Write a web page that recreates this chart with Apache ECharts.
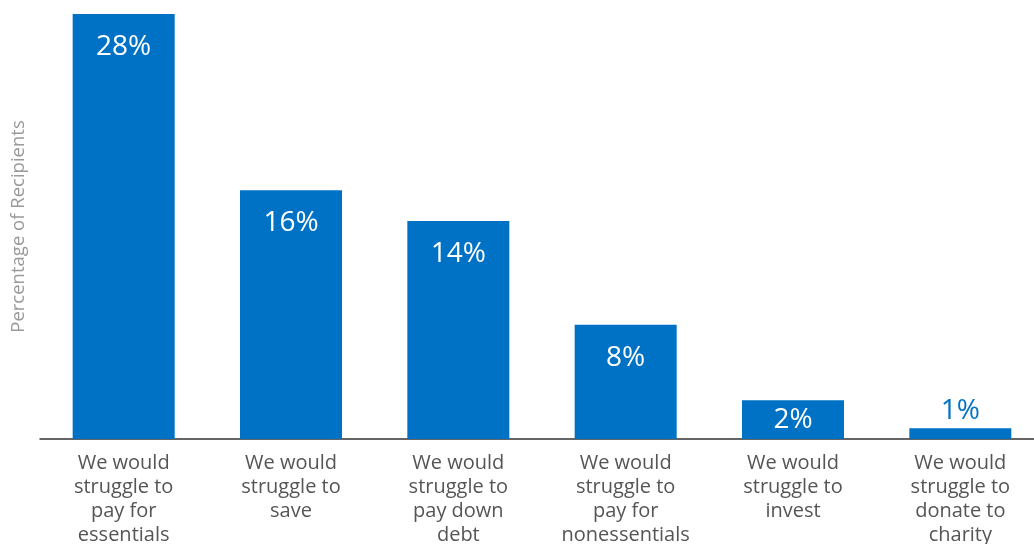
<!DOCTYPE html>
<html><head><meta charset="utf-8">
<script src="https://cdn.jsdelivr.net/npm/echarts@6/dist/echarts.min.js"></script>
<style>html,body{margin:0;padding:0;background:#fff}#c{width:1034px;height:544px}</style>
</head><body><div id="c"></div>
<script>
const categories = [
  "We would\nstruggle to\npay for\nessentials",
  "We would\nstruggle to\nsave",
  "We would\nstruggle to\npay down\ndebt",
  "We would\nstruggle to\npay for\nnonessentials",
  "We would\nstruggle to\ninvest",
  "We would\nstruggle to\ndonate to\ncharity"
];
const values = [27.5, 16.1, 14.1, 7.4, 2.5, 0.7];
const valueLabels = ["28%", "16%", "14%", "8%", "2%", "1%"];
const yAxisName = "Percentage of Recipients";

const BLUE = "#0072C6";
const font = "'Open Sans', 'Noto Sans', sans-serif";

const data = values.map((v, i) => {
  let label;
  if (v < 1) label = { position: "top", color: BLUE, distance: 3 };
  else if (v < 4) label = { position: "inside", color: "#fff" };
  else label = { position: "insideTop", color: "#fff", distance: 19 };
  return { value: v, label };
});

const chart = echarts.init(document.getElementById("c"), null, { renderer: "canvas" });
chart.setOption({
  animation: false,
  backgroundColor: "#fff",
  grid: { left: 40, right: -10, top: 14, bottom: 105, containLabel: false, outerBoundsMode: "none" },
  xAxis: {
    type: "category",
    data: categories,
    axisLine: { show: true, lineStyle: { color: "#333", width: 1.5 } },
    axisTick: { show: false },
    axisLabel: {
      interval: 0, margin: 12, fontFamily: font, fontSize: 20, lineHeight: 24,
      color: "#555", align: "center"
    }
  },
  yAxis: {
    type: "value",
    min: 0, max: 27.5,
    name: yAxisName,
    nameLocation: "middle",
    nameGap: 12,
    nameRotate: 90,
    nameTextStyle: { fontFamily: font, fontSize: 18.5, color: "#9a9a9a" },
    axisLine: { show: false },
    axisTick: { show: false },
    axisLabel: { show: false },
    splitLine: { show: false }
  },
  series: [{
    type: "bar",
    data: data,
    barWidth: 102,
    itemStyle: { color: BLUE },
    label: {
      show: true,
      fontFamily: font,
      fontSize: 28,
      formatter: p => valueLabels[p.dataIndex]
    }
  }]
});
</script>
</body></html>
